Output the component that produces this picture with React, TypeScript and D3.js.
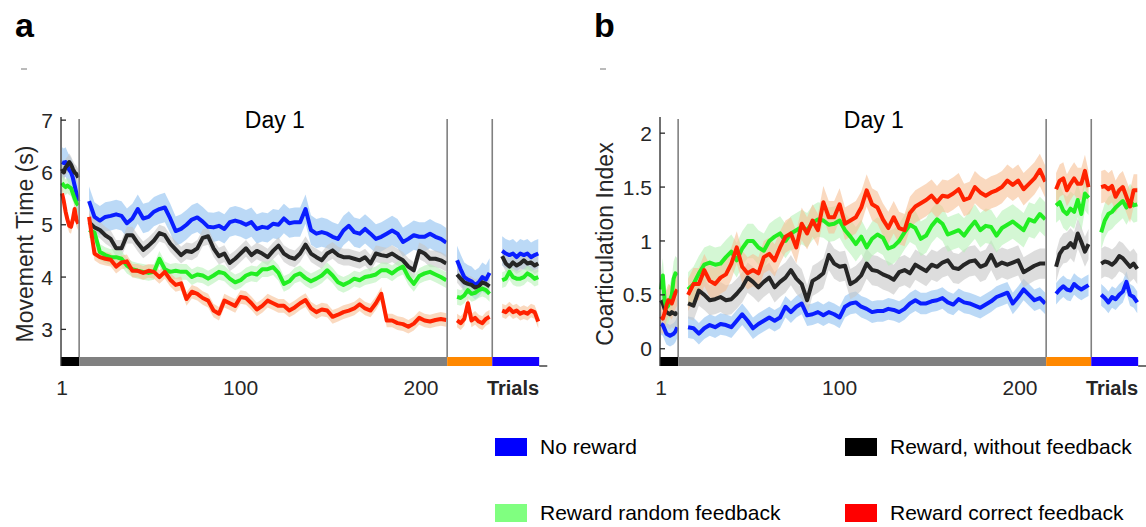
import React from 'react';
import * as d3 from 'd3';

const SERIES_NAMES = ['No reward', 'Reward, without feedback', 'Reward random feedback', 'Reward correct feedback'];
const LINE_COLORS = ['#0a1eff', '#262626', '#22ee22', '#ff2200'];
const BAND_COLORS = ['#8dbff0', '#c6c6c6', '#b8f2b8', '#f7bf95'];
const LEGEND_COLORS = ['#0000ff', '#000000', '#80ff80', '#ff0000'];

// trial positions of each segment (start, step)
const SEG_START = [1, 16, 220, 245];
const SEG_STEP = [1, 3, 2, 2];
const BLOCK_EDGES = [0.5, 10.5, 214.5, 239.5, 265.5];
const BLOCK_COLORS = ['#000000', '#808080', '#ff8800', '#1400ff'];
const X_TICKS = [1, 100, 200];
const MT_TICKS = [3, 4, 5, 6, 7];
const CI_TICKS = [0, 0.5, 1, 1.5, 2];

// ---- Panel a: Movement Time (s) ----
const mtNoReward = [
  [6.2, 6.18, 6.2, 6.12, 6.05, 6.0, 5.9, 5.75, 5.6, 5.45],
  [5.45, 5.15, 5.08, 5.15, 5.17, 5.2, 5.17, 5.03, 5.12, 5.3, 5.12, 5.15, 5.25, 5.3, 5.33, 5.12, 4.88, 4.92, 5.0, 5.1,
   5.14, 5.06, 4.96, 4.95, 4.98, 4.92, 5.05, 5.08, 5.05, 5.0, 5.05, 4.92, 4.96, 4.94, 5.02, 5.0, 5.12, 5.03, 5.05, 5.05,
   5.3, 4.9, 4.83, 4.86, 4.83, 4.77, 4.73, 4.89, 4.98, 4.86, 4.83, 4.92, 4.83, 4.73, 4.77, 4.83, 4.89, 4.83, 4.67, 4.73,
   4.8, 4.77, 4.77, 4.83, 4.77, 4.73, 4.66],
  [4.32, 4.15, 4.0, 3.95, 3.92, 3.85, 3.9, 4.0, 3.95, 4.08],
  [4.5, 4.45, 4.42, 4.45, 4.38, 4.45, 4.42, 4.45, 4.38, 4.42, 4.45],
];
const mtNoFeedback = [
  [6.07, 6.0, 6.1, 6.14, 6.2, 6.15, 6.07, 6.0, 5.97, 5.9],
  [5.05, 4.95, 4.9, 4.8, 4.73, 4.55, 4.55, 4.8, 4.8, 4.65, 4.52, 4.6, 4.7, 4.84, 4.8, 4.64, 4.53, 4.42, 4.5, 4.48,
   4.55, 4.75, 4.78, 4.55, 4.4, 4.45, 4.27, 4.35, 4.45, 4.55, 4.42, 4.5, 4.45, 4.38, 4.5, 4.6, 4.45, 4.38, 4.35, 4.45,
   4.62, 4.45, 4.38, 4.32, 4.45, 4.51, 4.42, 4.38, 4.38, 4.35, 4.32, 4.38, 4.26, 4.45, 4.42, 4.4, 4.45, 4.38, 4.32, 4.2,
   4.13, 4.5, 4.45, 4.35, 4.35, 4.32, 4.26],
  [4.05, 3.97, 3.9, 3.87, 3.85, 3.8, 3.82, 3.9, 3.87, 3.82],
  [4.4, 4.26, 4.2, 4.28, 4.22, 4.26, 4.32, 4.26, 4.28, 4.22, 4.26],
];
const mtRandom = [
  [5.8, 5.75, 5.72, 5.75, 5.72, 5.7, 5.6, 5.5, 5.42, 5.37],
  [4.9, 4.85, 4.48, 4.42, 4.38, 4.38, 4.35, 4.22, 4.15, 4.12, 4.1, 4.08, 4.1, 4.35, 4.15, 4.1, 4.12, 4.1, 4.1, 4.0,
   4.05, 4.03, 3.97, 4.03, 4.1, 4.07, 3.97, 3.9, 3.94, 4.03, 4.07, 4.05, 4.15, 4.15, 4.19, 4.08, 3.87, 3.92, 4.03, 4.07,
   3.98, 3.92, 3.97, 4.03, 4.13, 4.03, 3.9, 3.85, 3.9, 3.97, 3.94, 4.0, 4.02, 4.05, 4.13, 4.13, 4.07, 4.15, 4.2, 4.0,
   3.87, 4.02, 4.07, 4.1, 4.05, 4.0, 3.94],
  [3.62, 3.6, 3.65, 3.75, 3.68, 3.7, 3.75, 3.78, 3.75, 3.68],
  [3.94, 3.97, 4.1, 4.0, 3.97, 3.97, 4.0, 4.07, 4.03, 3.97, 4.0],
];
const mtCorrect = [
  [5.6, 5.45, 5.25, 5.1, 4.98, 4.96, 5.1, 5.3, 5.1, 5.02],
  [5.15, 4.45, 4.38, 4.35, 4.33, 4.2, 4.28, 4.3, 4.12, 4.12, 4.08, 4.12, 4.1, 4.0, 4.1, 3.95, 3.85, 3.88, 3.58, 3.72,
   3.68, 3.6, 3.55, 3.36, 3.3, 3.55, 3.5, 3.45, 3.62, 3.6, 3.5, 3.38, 3.45, 3.55, 3.5, 3.45, 3.45, 3.36, 3.42, 3.5,
   3.56, 3.4, 3.33, 3.38, 3.36, 3.24, 3.28, 3.33, 3.36, 3.4, 3.48, 3.4, 3.36, 3.5, 3.68, 3.17, 3.17, 3.12, 3.1, 3.05,
   3.11, 3.22, 3.17, 3.15, 3.18, 3.2, 3.18],
  [3.17, 3.12, 3.2, 3.5, 3.17, 3.22, 3.15, 3.12, 3.2, 3.24],
  [3.36, 3.33, 3.4, 3.33, 3.36, 3.3, 3.33, 3.3, 3.36, 3.33, 3.15],
];
const MT_SE = [0.28, 0.16, 0.15, 0.13];

// ---- Panel b: Coarticulation Index ----
const ciNoReward = [
  [0.23, 0.22, 0.18, 0.14, 0.13, 0.12, 0.13, 0.14, 0.16, 0.2],
  [0.2, 0.19, 0.14, 0.19, 0.22, 0.2, 0.23, 0.22, 0.2, 0.26, 0.32, 0.26, 0.19, 0.23, 0.26, 0.29, 0.26, 0.29, 0.39, 0.34,
   0.39, 0.42, 0.31, 0.32, 0.34, 0.31, 0.34, 0.32, 0.29, 0.39, 0.42, 0.43, 0.39, 0.37, 0.34, 0.35,
   0.35, 0.37, 0.36, 0.34, 0.37, 0.42, 0.45, 0.42, 0.42, 0.44, 0.45, 0.47, 0.43, 0.41, 0.46, 0.43, 0.42, 0.4, 0.38, 0.41,
   0.44, 0.48, 0.5, 0.52, 0.42, 0.48, 0.55, 0.5, 0.45, 0.47, 0.42],
  [0.51, 0.55, 0.58, 0.55, 0.54, 0.6, 0.57, 0.55, 0.57, 0.59],
  [0.5, 0.47, 0.43, 0.48, 0.46, 0.5, 0.53, 0.62, 0.5, 0.48, 0.43],
];
const ciNoFeedback = [
  [0.45, 0.42, 0.37, 0.34, 0.33, 0.32, 0.34, 0.33, 0.32, 0.34],
  [0.42, 0.4, 0.54, 0.5, 0.45, 0.46, 0.48, 0.45, 0.46, 0.51, 0.57, 0.66, 0.62, 0.57, 0.62, 0.66, 0.57, 0.62, 0.66, 0.73,
   0.65, 0.6, 0.45, 0.63, 0.66, 0.7, 0.87, 0.79, 0.76, 0.77, 0.6, 0.63, 0.68, 0.79, 0.73, 0.72,
   0.69, 0.67, 0.64, 0.71, 0.73, 0.7, 0.78, 0.75, 0.72, 0.78, 0.76, 0.8, 0.82, 0.75, 0.74, 0.78, 0.81, 0.82, 0.76, 0.78,
   0.87, 0.77, 0.8, 0.78, 0.8, 0.82, 0.71, 0.74, 0.77, 0.79, 0.79],
  [0.76, 0.88, 0.93, 0.94, 0.98, 0.94, 1.07, 0.99, 0.9, 0.97],
  [0.79, 0.81, 0.8, 0.78, 0.81, 0.86, 0.84, 0.8, 0.76, 0.79, 0.74],
];
const ciRandom = [
  [0.55, 0.68, 0.45, 0.38, 0.4, 0.45, 0.5, 0.65, 0.7, 0.68],
  [0.55, 0.6, 0.7, 0.78, 0.8, 0.78, 0.79, 0.85, 0.9, 0.82, 0.93, 1.0, 1.0, 0.94, 0.91, 1.0, 1.04, 1.07, 1.0, 1.07,
   1.1, 1.13, 1.1, 1.17, 1.2, 1.19, 1.15, 1.16, 1.19, 1.1, 1.04, 0.97, 1.04, 0.94, 1.02, 1.06,
   1.03, 0.93, 0.95, 1.0, 1.08, 1.15, 1.12, 1.02, 1.05, 1.14, 1.2, 1.16, 1.06, 1.08, 1.1, 1.05, 1.12, 1.18, 1.1, 1.14,
   1.13, 1.05, 1.12, 1.15, 1.18, 1.14, 1.1, 1.2, 1.18, 1.25, 1.2],
  [1.33, 1.36, 1.28, 1.25, 1.3, 1.27, 1.38, 1.25, 1.44, 1.4],
  [1.08, 1.19, 1.25, 1.27, 1.31, 1.34, 1.37, 1.31, 1.37, 1.33, 1.34],
];
const ciCorrect = [
  [0.3, 0.28, 0.33, 0.4, 0.45, 0.44, 0.42, 0.47, 0.52, 0.55],
  [0.5, 0.6, 0.6, 0.73, 0.63, 0.6, 0.66, 0.69, 0.79, 0.94, 0.76, 0.7, 0.73, 0.7, 0.85, 0.88, 0.82, 0.94, 1.04, 1.07,
   0.94, 1.16, 1.07, 1.19, 1.1, 1.36, 1.22, 1.22, 1.34, 1.16, 1.19, 1.22, 1.31, 1.47, 1.34, 1.31,
   1.2, 1.12, 1.22, 1.12, 1.1, 1.26, 1.32, 1.35, 1.38, 1.42, 1.36, 1.42, 1.41, 1.44, 1.48, 1.38, 1.4, 1.5, 1.45, 1.42,
   1.45, 1.47, 1.5, 1.56, 1.52, 1.56, 1.48, 1.53, 1.58, 1.66, 1.55],
  [1.48, 1.56, 1.58, 1.47, 1.53, 1.58, 1.53, 1.53, 1.65, 1.5],
  [1.5, 1.51, 1.48, 1.51, 1.41, 1.47, 1.5, 1.41, 1.32, 1.47, 1.47],
];
const CI_SE = [0.1, 0.14, 0.16, 0.15];

const FONT = '"Liberation Sans", Arial, Helvetica, sans-serif';
const TEXT_COLOR = '#262626';

type PanelProps = {
  originX: number; // left edge of the panel block (letter position)
  x1: number; // pixel of trial 1
  labelX: number; // baseline x of rotated y label
  yDomain: [number, number];
  ticks: number[];
  ylabel: string;
  letter: string;
  data: number[][][];
  se: number[];
};

function Panel({ originX, x1, labelX, yDomain, ticks, ylabel, letter, data, se }: PanelProps) {
  const xs = d3.scaleLinear().domain([1, 200]).range([x1, x1 + 359]);
  const ys = d3.scaleLinear().domain(yDomain).range([366, 117]);
  const axisX = xs(0.45);
  const axisEnd = xs(270);
  const bottom = ys(yDomain[0]);
  const top = ys(yDomain[1]);
  const barH = 9;

  const pts = (vals: number[], k: number) => vals.map((v, i) => [SEG_START[k] + i * SEG_STEP[k], v] as [number, number]);
  const line = d3.line<[number, number]>().x(d => xs(d[0])).y(d => ys(d[1]));

  return (
    <g>
      <text x={originX + 15} y={37} fontFamily={FONT} fontWeight="bold" fontSize={34} fill="#000">{letter}</text>
      <line x1={originX + 21} x2={originX + 27} y1={69} y2={69} stroke="#777" strokeWidth={1} />
      <text x={xs(119)} y={128} textAnchor="middle" fontFamily={FONT} fontSize={23} fill="#000">Day 1</text>
      {/* bands */}
      {data.map((series, s) => series.map((vals, k) => {
        const area = d3.area<[number, number]>().x(d => xs(d[0])).y0(d => ys(d[1] - se[s])).y1(d => ys(d[1] + se[s]));
        return <path key={`b${s}-${k}`} d={area(pts(vals, k)) || ''} fill={BAND_COLORS[s]} fillOpacity={0.6} stroke="none" />;
      }))}
      {/* lines */}
      {data.map((series, s) => series.map((vals, k) => (
        <path key={`l${s}-${k}`} d={line(pts(vals, k)) || ''} fill="none" stroke={LINE_COLORS[s]} strokeWidth={4} strokeLinejoin="round" strokeLinecap="butt" />
      )))}
      {/* block separators */}
      {BLOCK_EDGES.slice(1, 4).map((t, i) => (
        <line key={`sep${i}`} x1={xs(t)} x2={xs(t)} y1={top + 2} y2={bottom - barH} stroke="#808080" strokeWidth={1.6} />
      ))}
      {/* block bars */}
      {BLOCK_COLORS.map((c, i) => (
        <rect key={`bar${i}`} x={xs(BLOCK_EDGES[i])} y={bottom - barH} width={xs(BLOCK_EDGES[i + 1]) - xs(BLOCK_EDGES[i])} height={barH} fill={c} />
      ))}
      {/* axes */}
      <line x1={axisX} x2={axisX} y1={top} y2={bottom} stroke={TEXT_COLOR} strokeWidth={1.3} />
      <line x1={xs(265.5)} x2={axisEnd} y1={bottom} y2={bottom} stroke={TEXT_COLOR} strokeWidth={1.3} />
      {ticks.map(t => (
        <g key={`yt${t}`}>
          <line x1={axisX} x2={axisX + 5} y1={ys(t)} y2={ys(t)} stroke={TEXT_COLOR} strokeWidth={1.3} />
          <text x={axisX - 8} y={ys(t)} dy="0.36em" textAnchor="end" fontFamily={FONT} fontSize={21} fill={TEXT_COLOR}>{String(t)}</text>
        </g>
      ))}
      {X_TICKS.map(t => (
        <text key={`xt${t}`} x={xs(t)} y={395} textAnchor="middle" fontFamily={FONT} fontSize={21} fill={TEXT_COLOR}>{String(t)}</text>
      ))}
      <text x={xs(265.5)} y={395} textAnchor="end" fontFamily={FONT} fontSize={20} fontWeight="bold" fill={TEXT_COLOR}>Trials</text>
      <text transform={`translate(${labelX},${244}) rotate(-90)`} textAnchor="middle" fontFamily={FONT} fontSize={23} fill={TEXT_COLOR}>{ylabel}</text>
    </g>
  );
}

export default function App() {
  const mtData = [mtNoReward, mtNoFeedback, mtRandom, mtCorrect];
  const ciData = [ciNoReward, ciNoFeedback, ciRandom, ciCorrect];
  const legendX = [495, 845];
  const legendY = [438, 504];
  return (
    <svg width={1146} height={527} style={{ position: 'absolute', left: 0, top: 0, background: '#fff' }}>
      <rect width={1146} height={527} fill="#fff" />
      <Panel originX={0} x1={62} labelX={33} yDomain={[2.3, 7.06]} ticks={MT_TICKS} ylabel="Movement Time (s)" letter="a" data={mtData} se={MT_SE} />
      <Panel originX={579} x1={661} labelX={613} yDomain={[-0.16, 2.15]} ticks={CI_TICKS} ylabel="Coarticulation Index" letter="b" data={ciData} se={CI_SE} />
      {SERIES_NAMES.map((name, i) => {
        const lx = legendX[i % 2];
        const ly = legendY[Math.floor(i / 2)];
        return (
          <g key={name}>
            <rect x={lx} y={ly} width={32} height={18} fill={LEGEND_COLORS[i]} />
            <text x={lx + 45} y={ly + 16} fontFamily={FONT} fontSize={21} fill="#000">{name}</text>
          </g>
        );
      })}
    </svg>
  );
}
